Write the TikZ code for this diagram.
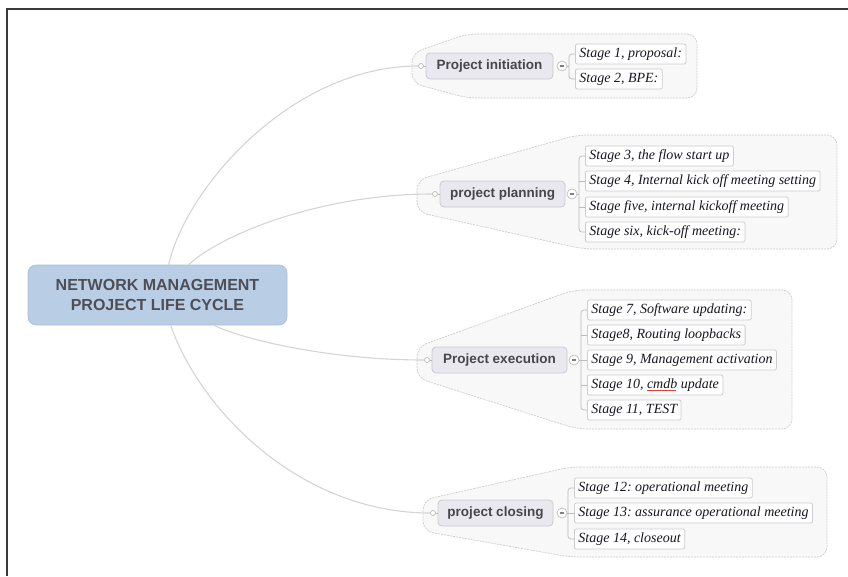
\documentclass[tikz,border=0pt]{standalone}
\usepackage{fontspec}
\setmainfont{Liberation Serif}
\setsansfont{Liberation Sans}
\usetikzlibrary{calc}
\frenchspacing

\definecolor{framec}{HTML}{3A3A3A}
\definecolor{rootfill}{HTML}{B9CDE5}
\definecolor{rootdraw}{HTML}{A9BDD8}
\definecolor{roottext}{HTML}{4E4E55}
\definecolor{topicfill}{HTML}{E8E8EE}
\definecolor{topicdraw}{HTML}{C9C9CF}
\definecolor{topictext}{HTML}{46464C}
\definecolor{grpfill}{HTML}{F8F8F8}
\definecolor{grpdraw}{HTML}{CDCDCD}
\definecolor{stagedraw}{HTML}{CDCDCD}
\definecolor{stagetext}{HTML}{16161F}
\definecolor{branch}{HTML}{D4D4D4}
\definecolor{bracketc}{HTML}{BBBBBB}
\definecolor{spell}{HTML}{E0403A}

% misspelled word marker: a small red zigzag of dots under the word
\newcommand{\spellmark}[1]{%
  \setbox0\hbox{#1}%
  \rlap{\raisebox{-2.8pt}{\color{spell}\leaders\hbox{\rule{0.9pt}{0.7pt}\raisebox{0.7pt}{\rule{0.9pt}{0.7pt}}}\hskip\wd0}}%
  \box0\relax}
% collapse sign drawn inside the toggle circles
\newcommand{\collapsesign}{\rule{4pt}{1.1pt}}

\tikzset{
  rootbox/.style={rectangle, rounded corners=8pt, fill=rootfill, draw=rootdraw,
    line width=0.6pt, minimum width=259pt, minimum height=60pt, align=center,
    font=\sffamily\bfseries\fontsize{16}{19.5}\selectfont, text=roottext},
  topicbox/.style={rectangle, rounded corners=4pt, fill=topicfill, draw=topicdraw,
    line width=0.8pt, minimum height=26pt, inner xsep=4pt,
    font=\sffamily\bfseries\fontsize{13.5}{15}\selectfont, text=topictext},
  stagebox/.style={rectangle, rounded corners=2pt, fill=white, draw=stagedraw,
    line width=0.8pt, minimum height=20pt, inner xsep=4pt, inner ysep=2pt, anchor=west,
    font=\itshape\fontsize{14}{16}\selectfont, text=stagetext},
  handle/.style={circle, draw=gray!60, fill=white, line width=0.6pt,
    inner sep=0pt, minimum size=5pt},
  toggle/.style={circle, draw=gray!55, fill=white, line width=0.6pt, inner sep=0pt,
    minimum size=10pt, text=gray},
  grpshape/.style={draw=grpdraw, fill=grpfill, dash pattern=on 2pt off 1pt,
    line width=0.7pt, rounded corners=10pt},
  link/.style={draw=branch, line width=1.1pt},
  bracket/.style={draw=bracketc, line width=0.7pt, rounded corners=3pt},
}

\begin{document}
\begin{tikzpicture}[x=1pt, y=-1pt]
\useasboundingbox (0,0) rectangle (848,576);

% outer frame (top and left edges)
\draw[framec, line width=1.6pt] (7,576) -- (7,9) -- (848,9);

% group backgrounds
\path[grpshape] (467,34) -- (697,34) -- (697,98) -- (467,98) -- (412,83) -- (412,53) -- cycle;
\path[grpshape] (577,135) -- (837,135) -- (837,249) -- (583,249) -- (417,212) -- (417,180) -- cycle;
\path[grpshape] (573,290) -- (792,290) -- (792,429) -- (577,429) -- (417,378) -- (417,347) -- cycle;
\path[grpshape] (570,467) -- (827,467) -- (827,557) -- (570,557) -- (423,531) -- (423,500) -- cycle;

% central topic
\node[rootbox] (root) at (157.5,295) {NETWORK MANAGEMENT\\PROJECT LIFE CYCLE};

% main branches
\node[topicbox, minimum width=127pt] (t1) at (489.5,66) {Project initiation};
\node[topicbox, minimum width=125pt] (t2) at (502.5,194) {project planning};
\node[topicbox, minimum width=135pt] (t3) at (499.5,360) {Project execution};
\node[topicbox, minimum width=115pt] (t4) at (495.5,513) {project closing};

\node[handle] (d1) at (421,66) {};
\node[handle] (d2) at (435,194) {};
\node[handle] (d3) at (427,360) {};
\node[handle] (d4) at (433,513) {};

\node[toggle] (m1) at (562,66) {\collapsesign};
\node[toggle] (m2) at (572,194) {\collapsesign};
\node[toggle] (m3) at (574,360) {\collapsesign};
\node[toggle] (m4) at (562,513) {\collapsesign};

\coordinate (j1) at (569,66);
\coordinate (j2) at (579,194);
\coordinate (j3) at (581,360);
\coordinate (j4) at (568,513);

% stages
\node[stagebox] (s1) at (575,54) {Stage 1, proposal:};
\node[stagebox] (s2) at (575,79) {Stage 2, BPE:};

\node[stagebox] (s3) at (585,156) {Stage 3, the flow start up};
\node[stagebox] (s4) at (585,181) {Stage 4, Internal kick off meeting setting};
\node[stagebox] (s5) at (585,207) {Stage five, internal kickoff meeting};
\node[stagebox] (s6) at (585,232) {Stage six, kick-off meeting:};

\node[stagebox] (s7) at (587,310) {Stage 7, Software updating:};
\node[stagebox] (s8) at (587,335) {Stage8, Routing loopbacks};
\node[stagebox] (s9) at (587,360) {Stage 9, Management activation};
\node[stagebox] (s10) at (587,385) {Stage 10, \spellmark{cmdb} update};
\node[stagebox] (s11) at (587,410) {Stage 11, TEST};

\node[stagebox] (s12) at (574,488) {Stage 12: operational meeting};
\node[stagebox] (s13) at (574,513) {Stage 13: assurance operational meeting};
\node[stagebox] (s14) at (574,539) {Stage 14, closeout};

% curved links from the central topic
\draw[link] ($(root.north west)+(141,0)$) .. controls (185,190) and (290,66) .. (d1.west);
\draw[link] ($(root.north west)+(161,0)$) .. controls (220,235) and (320,194) .. (d2.west);
\draw[link] ($(root.south west)+(186,0)$) .. controls (245,340) and (330,360) .. (d3.west);
\draw[link] ($(root.south west)+(143,0)$) .. controls (200,410) and (300,513) .. (d4.west);

% short stubs between handles and branch boxes
\draw[bracket] (d1.east) -- (t1.west);
\draw[bracket] (d2.east) -- (t2.west);
\draw[bracket] (d3.east) -- (t3.west);
\draw[bracket] (d4.east) -- (t4.west);

% brackets to the stages
\draw[bracket] (m1.east) -- (j1);
\draw[bracket] (s1.west) -- (s1.west -| j1) -- (s2.west -| j1) -- (s2.west);

\draw[bracket] (m2.east) -- (j2);
\draw[bracket] (s3.west) -- (s3.west -| j2) -- (s6.west -| j2) -- (s6.west);
\draw[bracket] (s4.west -| j2) -- (s4.west);
\draw[bracket] (s5.west -| j2) -- (s5.west);

\draw[bracket] (m3.east) -- (j3);
\draw[bracket] (s7.west) -- (s7.west -| j3) -- (s11.west -| j3) -- (s11.west);
\draw[bracket] (s8.west -| j3) -- (s8.west);
\draw[bracket] (s9.west -| j3) -- (s9.west);
\draw[bracket] (s10.west -| j3) -- (s10.west);

\draw[bracket] (m4.east) -- (j4);
\draw[bracket] (s12.west) -- (s12.west -| j4) -- (s14.west -| j4) -- (s14.west);
\draw[bracket] (s13.west -| j4) -- (s13.west);
\end{tikzpicture}
\end{document}
